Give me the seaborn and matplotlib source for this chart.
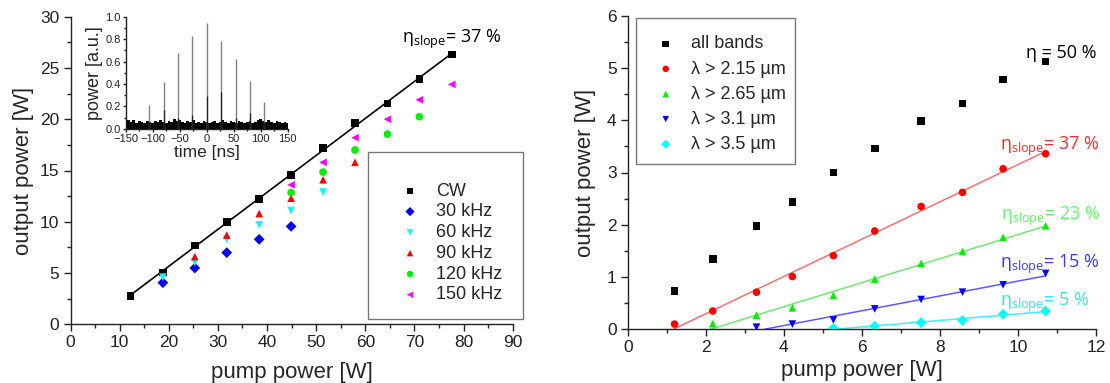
import numpy as np
import matplotlib
matplotlib.use("Agg")
import matplotlib.pyplot as plt
from matplotlib.patches import Rectangle
from matplotlib.ticker import MultipleLocator
import seaborn as sns

# ---------------- left panel: CW and Q-switched output ----------------
pump_cw = [12.2, 18.8, 25.3, 31.8, 38.4, 44.9, 51.4, 57.9, 64.5, 71.0, 77.6]
p_cw = [2.76, 5.07, 7.67, 9.98, 12.25, 14.56, 17.22, 19.63, 21.55, 23.92, 26.32]
pump_30k = [18.8, 25.3, 31.8, 38.4, 44.9]
p_30k = [4.06, 5.49, 6.99, 8.29, 9.55]
pump_60k = [18.8, 25.3, 31.8, 38.4, 44.9, 51.4]
p_60k = [4.6, 6.05, 8.3, 9.7, 11.1, 12.9]
pump_90k = [25.3, 31.8, 38.4, 44.9, 51.4, 57.9]
p_90k = [6.6, 8.7, 10.8, 12.3, 14.1, 15.8]
pump_120k = [44.9, 51.4, 57.9, 64.5, 71.0]
p_120k = [12.85, 14.85, 17.0, 18.55, 20.25]
pump_150k = [44.9, 51.4, 57.9, 64.5, 71.0, 77.6]
p_150k = [13.6, 15.8, 18.2, 20.0, 21.9, 23.4]
left_labels = ["CW", "30 kHz", "60 kHz", "90 kHz", "120 kHz", "150 kHz"]

# inset: pulse train
pulse_t = [-107, -80, -53.5, -26.8, 0, 26.8, 53.5, 80, 107]
pulse_h = [0.21, 0.42, 0.68, 0.83, 0.946, 0.78, 0.62, 0.43, 0.235]
pulse_inner = [0.06, 0.17, 0.10, 0.12, 0.29, 0.33, 0.10, 0.14, 0.06]
noise_t = [-150, -145, -140, -135, -130, -125, -120, -115, -110, -105, -100,
           -95, -90, -85, -80, -75, -70, -65, -60, -55, -50, -45, -40, -35,
           -30, -25, -20, -15, -10, -5, 0, 5, 10, 15, 20, 25, 30, 35, 40, 45,
           50, 55, 60, 65, 70, 75, 80, 85, 90, 95, 100, 105, 110, 115, 120,
           125, 130, 135, 140, 145, 150]
noise_top = [0.07, 0.08, 0.06, 0.08, 0.05, 0.07, 0.06, 0.05, 0.07, 0.06, 0.05,
             0.07, 0.06, 0.08, 0.06, 0.05, 0.07, 0.06, 0.09, 0.07, 0.08, 0.06,
             0.05, 0.07, 0.06, 0.08, 0.05, 0.06, 0.05, 0.07, 0.06, 0.05, 0.06,
             0.07, 0.05, 0.06, 0.08, 0.06, 0.05, 0.07, 0.06, 0.05, 0.07, 0.06,
             0.05, 0.06, 0.07, 0.05, 0.06, 0.08, 0.09, 0.07, 0.06, 0.08, 0.06,
             0.05, 0.07, 0.06, 0.05, 0.06, 0.05]

# ---------------- right panel: spectrally filtered output ----------------
pump_r = [1.2, 2.18, 3.3, 4.22, 5.27, 6.33, 7.52, 8.58, 9.62, 10.71]
p_all = [0.73, 1.34, 1.98, 2.44, 3.0, 3.46, 3.98, 4.32, 4.78, 5.12]
p_215 = [0.10, 0.35, 0.71, 1.01, 1.41, 1.88, 2.35, 2.62, 3.07, 3.36]
pump_265 = [2.18, 3.3, 4.22, 5.27, 6.33, 7.52, 8.58, 9.62, 10.71]
p_265 = [0.11, 0.27, 0.41, 0.65, 0.96, 1.26, 1.49, 1.76, 1.98]
pump_31 = [3.3, 4.22, 5.27, 6.33, 7.52, 8.58, 9.62, 10.71]
p_31 = [0.04, 0.10, 0.18, 0.39, 0.57, 0.71, 0.85, 1.07]
pump_35 = [5.27, 6.33, 7.52, 8.58, 9.62, 10.71]
p_35 = [0.02, 0.06, 0.13, 0.17, 0.29, 0.35]
right_labels = ["all bands", "λ > 2.15 µm", "λ > 2.65 µm", "λ > 3.1 µm", "λ > 3.5 µm"]
slope_labels = ["37 %", "23 %", "15 %", "5 %"]

W, H = 1110, 383
sns.set_theme(style="ticks")
plt.rcParams["font.family"] = ["Liberation Sans", "DejaVu Sans"]
plt.rcParams["axes.linewidth"] = 1.0

fig = plt.figure(figsize=(W / 100, H / 100), dpi=100)


def px_axes(x0, x1, top, bottom):
    return fig.add_axes([x0 / W, 1 - bottom / H, (x1 - x0) / W, (bottom - top) / H])


def style_axes(ax, fs=12.5, major=5, minor=3, pad=3):
    sns.despine(ax=ax)
    ax.tick_params(which="major", direction="out", length=major, width=1,
                   labelsize=fs, pad=pad, colors="#222222")
    ax.tick_params(which="minor", direction="out", length=minor, width=1,
                   colors="#222222")
    for s in ("left", "bottom"):
        ax.spines[s].set_color("#222222")


def px_legend(ax, handles, labels, x, y, pitch_sp, hpad):
    ax.legend(handles, labels, loc="upper left",
              bbox_to_anchor=(x / W, 1 - y / H), bbox_transform=fig.transFigure,
              frameon=False, borderpad=0, borderaxespad=0, handlelength=1.0,
              handletextpad=hpad, labelspacing=pitch_sp, fontsize=13,
              scatterpoints=1, markerscale=0.85)


def px_box(x0, y0, x1, y1):
    fig.patches.append(Rectangle((x0 / W, 1 - y1 / H), (x1 - x0) / W, (y1 - y0) / H,
                                 transform=fig.transFigure, fill=False,
                                 edgecolor="#777777", linewidth=1.0))


eta_font = ["Open Sans", "DejaVu Sans"]


def eta_label(x, y, value, color, size=13):
    fig.text(x / W, 1 - y / H, "η$_{\\mathregular{slope}}$= " + value,
             color=color, fontsize=size, family=eta_font, ha="left", va="baseline")


# ---------- left axes ----------
axL = px_axes(70.5, 512.7, 16.7, 324.3)
left_series = [
    (pump_cw, p_cw, "s", "black"),
    (pump_30k, p_30k, "D", "#0000ff"),
    (pump_60k, p_60k, "v", "#00ffff"),
    (pump_90k, p_90k, "^", "#ff0000"),
    (pump_120k, p_120k, "o", "#00ee00"),
    (pump_150k, p_150k, "<", "#ff00ff"),
]
# linear fit of the CW data
k, b = np.polyfit(pump_cw, p_cw, 1)
fit_x = np.array([pump_cw[0], pump_cw[-1]])
sns.lineplot(x=fit_x, y=k * fit_x + b, color="black", lw=1.2, ax=axL, zorder=1)
for (xs, ys, m, c), lab in zip(left_series, left_labels):
    sns.scatterplot(x=xs, y=ys, marker=m, color=c, s=30, edgecolor="none",
                    ax=axL, label=lab, zorder=3)
axL.set_xlim(0, 90)
axL.set_ylim(0, 30)
axL.xaxis.set_major_locator(MultipleLocator(10))
axL.xaxis.set_minor_locator(MultipleLocator(5))
axL.yaxis.set_major_locator(MultipleLocator(5))
axL.yaxis.set_minor_locator(MultipleLocator(2.5))
style_axes(axL)
axL.set_xlabel("pump power [W]", fontsize=16, labelpad=8)
axL.set_ylabel("output power [W]", fontsize=16, labelpad=4)
hL, lL = axL.get_legend_handles_labels()
px_legend(axL, hL, lL, 401, 182.5, 0.21, 0.94)
px_box(368.3, 152.3, 522.7, 319)
eta_label(402, 43.3, slope_labels[0], "black")

# ---------- inset ----------
axI = px_axes(125.7, 287.7, 16.7, 128.7)
axI.set_facecolor("none")
axI.fill_between(noise_t, 0, noise_top, step="mid", color="black", lw=0)
axI.vlines(pulse_t, 0, pulse_h, color="#808080", lw=1.0)
axI.vlines(pulse_t, 0, pulse_inner, color="#222222", lw=0.9)
axI.set_xlim(-150, 150)
axI.set_ylim(0, 1.0)
axI.xaxis.set_major_locator(MultipleLocator(50))
axI.xaxis.set_minor_locator(MultipleLocator(25))
axI.yaxis.set_major_locator(MultipleLocator(0.2))
axI.yaxis.set_minor_locator(MultipleLocator(0.1))
axI.yaxis.set_major_formatter(matplotlib.ticker.FormatStrFormatter("%.1f"))
style_axes(axI, fs=8, major=2.5, minor=1.5, pad=1)
axI.set_xlabel("time [ns]", fontsize=12.5, labelpad=1)
axI.set_ylabel("power [a.u.]", fontsize=13, labelpad=2)

# ---------- right axes ----------
axR = px_axes(627.7, 1096, 15.7, 329.3)
right_series = [
    (pump_r, p_all, "s", "black", None),
    (pump_r, p_215, "o", "#ff0000", "#ff6e6e"),
    (pump_265, p_265, "^", "#00ee00", "#6ee86e"),
    (pump_31, p_31, "v", "#0000ff", "#5a5aff"),
    (pump_35, p_35, "D", "#00ffff", "#40f0f0"),
]
for xs, ys, m, c, lc in right_series:
    if lc is None:
        continue
    k, b = np.polyfit(xs, ys, 1)
    fx = np.array([-b / k, xs[-1]])
    sns.lineplot(x=fx, y=k * fx + b, color=lc, lw=1.1, ax=axR, zorder=1)
for (xs, ys, m, c, lc), lab in zip(right_series, right_labels):
    sns.scatterplot(x=xs, y=ys, marker=m, color=c, s=30, edgecolor="none",
                    ax=axR, label=lab, zorder=3)
axR.set_xlim(0, 12)
axR.set_ylim(0, 6)
axR.xaxis.set_major_locator(MultipleLocator(2))
axR.xaxis.set_minor_locator(MultipleLocator(1))
axR.yaxis.set_major_locator(MultipleLocator(1))
axR.yaxis.set_minor_locator(MultipleLocator(0.5))
style_axes(axR)
axR.set_xlabel("pump power [W]", fontsize=16, labelpad=3)
axR.set_ylabel("output power [W]", fontsize=16, labelpad=8)
hR, lR = axR.get_legend_handles_labels()
px_legend(axR, hR, lR, 656.7, 35.5, 0.45, 0.89)
px_box(636, 18.3, 795.3, 164)

fig.text(1026 / W, 1 - 58.3 / H, "η = 50 %", color="black", fontsize=13,
         family=eta_font, ha="left", va="baseline")
eta_label(1000, 149.5, slope_labels[0], "#ff2a2a")
eta_label(1000.7, 220, slope_labels[1], "#6ef06e")
eta_label(1000, 267.7, slope_labels[2], "#3a3aff")
eta_label(1000, 305.5, slope_labels[3], "#30e8e8")

fig.savefig("out.png", dpi=100)
